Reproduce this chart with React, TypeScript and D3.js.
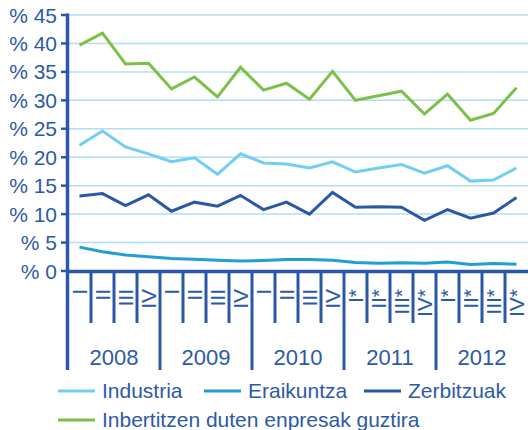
import React from "react";
import * as d3 from "d3";

const years = ["2008", "2009", "2010", "2011", "2012"];
const quarterLabels = [
  "I", "II", "III", "IV",
  "I", "II", "III", "IV",
  "I", "II", "III", "IV",
  "I*", "II*", "III*", "IV*",
  "I*", "II*", "III*", "IV*",
];
const yTicks = [0, 5, 10, 15, 20, 25, 30, 35, 40, 45];

const industria = [22.1, 24.6, 21.8, 20.6, 19.2, 19.9, 17.0, 20.6, 19.0, 18.8, 18.1, 19.2, 17.4, 18.1, 18.7, 17.2, 18.5, 15.8, 16.0, 18.1];
const eraikuntza = [4.2, 3.4, 2.8, 2.5, 2.2, 2.05, 1.9, 1.75, 1.85, 2.0, 2.0, 1.9, 1.5, 1.35, 1.45, 1.35, 1.6, 1.15, 1.3, 1.2];
const zerbitzuak = [13.2, 13.6, 11.5, 13.4, 10.5, 12.1, 11.4, 13.3, 10.8, 12.1, 10.0, 13.8, 11.2, 11.3, 11.2, 8.9, 10.8, 9.3, 10.2, 12.9];
const guztira = [39.7, 41.8, 36.4, 36.5, 32.0, 34.1, 30.6, 35.8, 31.8, 33.0, 30.2, 35.1, 30.0, 30.8, 31.6, 27.6, 31.1, 26.5, 27.7, 32.2];

const seriesNames = ["Industria", "Eraikuntza", "Zerbitzuak", "Inbertitzen duten enpresak guztira"];

const AXIS = "#2a58a6";
const TEXT = "#2c5aa7";
const GRID = "#b0def4";
const COLORS = ["#74cdf2", "#1f9ed8", "#2a58a6", "#7cc04a"];
const FONT = "'Liberation Sans', Arial, sans-serif";

export default function App() {
  const W = 528, H = 430;
  const left = 68, right = 528;
  const x = d3.scaleBand<number>().domain(d3.range(20)).range([left, right]).padding(0);
  const y = d3.scaleLinear().domain([0, 45]).range([271, 15]);
  const cx = (i: number) => (x(i) as number) + x.bandwidth() / 2;
  const line = d3.line<number>().x((_, i) => cx(i)).y((d) => y(d));

  const data = [guztira, industria, zerbitzuak, eraikuntza];
  const dataColors = [COLORS[3], COLORS[0], COLORS[2], COLORS[1]];

  const bw = x.bandwidth();

  return (
    <svg width={W} height={H} style={{ position: "absolute", left: 0, top: 0 }} fontFamily={FONT}>
      <rect width={W} height={H} fill="#fff" />
      {/* grid */}
      {yTicks.filter((t) => t > 0).map((t) => (
        <line key={"g" + t} x1={left} x2={right} y1={y(t)} y2={y(t)} stroke={GRID} strokeWidth={1.5} />
      ))}
      {/* data lines */}
      {data.map((s, k) => (
        <path key={"l" + k} d={line(s) || ""} fill="none" stroke={dataColors[k]} strokeWidth={3} strokeLinejoin="miter" />
      ))}
      {/* y axis */}
      <line x1={67.5} x2={67.5} y1={13.5} y2={370} stroke={AXIS} strokeWidth={3.5} />
      {yTicks.map((t) => (
        <g key={"t" + t}>
          <line x1={61} x2={68} y1={y(t)} y2={y(t)} stroke={AXIS} strokeWidth={2.5} />
          <text x={57} y={y(t)} dy="0.36em" textAnchor="end" fontSize={21} fill={TEXT}>
            {"% " + t}
          </text>
        </g>
      ))}
      {/* x axis */}
      <line x1={66} x2={right} y1={271.5} y2={271.5} stroke={AXIS} strokeWidth={3.5} />
      {d3.range(1, 20).map((i) => {
        const xx = left + bw * i;
        const isYear = i % 4 === 0;
        return (
          <line key={"s" + i} x1={xx} x2={xx} y1={272} y2={isYear ? 370 : 323} stroke={AXIS} strokeWidth={3} />
        );
      })}
      {quarterLabels.map((q, i) => (
        <text
          key={"q" + i}
          transform={`translate(${cx(i)},289) rotate(-90)`}
          textAnchor="end"
          dy="0.36em"
          fontSize={21}
          fill={TEXT}
        >
          {q}
        </text>
      ))}
      {years.map((yr, k) => (
        <text key={yr} x={left + bw * (4 * k + 2)} y={365} textAnchor="middle" fontSize={22} fill={TEXT}>
          {yr}
        </text>
      ))}
      {/* legend */}
      {[
        { n: 0, lx: 58, ly: 391 },
        { n: 1, lx: 204, ly: 391 },
        { n: 2, lx: 364, ly: 391 },
        { n: 3, lx: 58, ly: 420 },
      ].map(({ n, lx, ly }) => (
        <g key={"lg" + n}>
          <line x1={lx} x2={lx + 37} y1={ly} y2={ly} stroke={COLORS[n]} strokeWidth={3} />
          <text x={lx + 44} y={ly + 7} fontSize={21} fill={TEXT}>
            {seriesNames[n]}
          </text>
        </g>
      ))}
    </svg>
  );
}
